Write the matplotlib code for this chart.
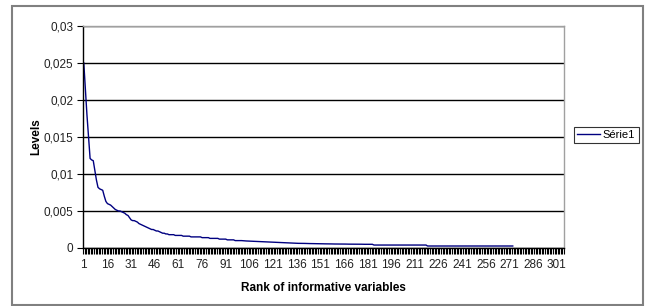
import matplotlib
matplotlib.use('Agg')
import matplotlib.pyplot as plt
from matplotlib.patches import Rectangle

plt.rcParams['font.family'] = ['Liberation Sans', 'DejaVu Sans']

# values, rank 1..273
levels = [
    0.0250, 0.0215, 0.0180, 0.0150, 0.0121, 0.0119, 0.0118, 0.0105, 0.0092, 0.0082,
    0.0080, 0.0079, 0.0078, 0.0070, 0.0063, 0.0060, 0.0059, 0.0058, 0.0056, 0.0054,
    0.0052, 0.0051, 0.0050, 0.0050, 0.0049, 0.0048, 0.0047, 0.0045, 0.0044, 0.0041,
    0.0038, 0.0037, 0.0037, 0.0036, 0.0035, 0.0033, 0.0032, 0.0031, 0.0030, 0.0029,
    0.0028, 0.0027, 0.0026, 0.0025, 0.0025, 0.0024, 0.0023, 0.0023, 0.0022, 0.0021,
    0.0020, 0.0020, 0.0019, 0.0019, 0.0018, 0.0018, 0.0018, 0.0018, 0.0017, 0.0017,
    0.0017, 0.0017, 0.0017, 0.0016, 0.0016, 0.0016, 0.0016, 0.0016, 0.0015, 0.0015,
    0.0015, 0.0015, 0.0015, 0.0015, 0.0015, 0.0014, 0.0014, 0.0014, 0.0014, 0.0014,
    0.0013, 0.0013, 0.0013, 0.0013, 0.0013, 0.0013, 0.0012, 0.0012, 0.0012, 0.0012,
    0.0012, 0.0011, 0.0011, 0.0011, 0.0011, 0.0011, 0.0010, 0.0010, 0.0010, 0.0010,
    0.00100, 0.00098, 0.00095, 0.00095, 0.00094, 0.00093, 0.00092, 0.00091, 0.00090, 0.00090,
    0.00088, 0.00087, 0.00086, 0.00085, 0.00084, 0.00083, 0.00082, 0.00080, 0.00079, 0.00078,
    0.00077, 0.00077, 0.00076, 0.00076, 0.00075, 0.00074, 0.00073, 0.00072, 0.00071, 0.00070,
    0.00069, 0.00068, 0.00067, 0.00066, 0.00065, 0.00064, 0.00063, 0.00063, 0.00063, 0.00062,
    0.00062, 0.00061, 0.00061, 0.00060, 0.00060, 0.00059, 0.00059, 0.00058, 0.00058, 0.00058,
    0.00057, 0.00057, 0.00056, 0.00056, 0.00056, 0.00055, 0.00055, 0.00055, 0.00054, 0.00054,
    0.00054, 0.00054, 0.00054, 0.00053, 0.00053, 0.00053, 0.00053, 0.00052, 0.00052, 0.00052,
    0.00052, 0.00052, 0.00051, 0.00051, 0.00051, 0.00051, 0.00051, 0.00050, 0.00050, 0.00050,
    0.00050, 0.00050, 0.00050, 0.00050, 0.00040, 0.00040, 0.00040, 0.00040, 0.00040, 0.00040,
    0.00040, 0.00040, 0.00040, 0.00040, 0.00040, 0.00040, 0.00040, 0.00040, 0.00040, 0.00040,
    0.00040, 0.00040, 0.00040, 0.00040, 0.00040, 0.00040, 0.00040, 0.00040, 0.00040, 0.00040,
    0.00040, 0.00040, 0.00040, 0.00040, 0.00040, 0.00040, 0.00040, 0.00040, 0.00027, 0.00027,
    0.00027, 0.00027, 0.00027, 0.00027, 0.00027, 0.00027, 0.00027, 0.00027, 0.00027, 0.00027,
    0.00027, 0.00027, 0.00027, 0.00027, 0.00027, 0.00027, 0.00027, 0.00027, 0.00027, 0.00027,
    0.00027, 0.00027, 0.00027, 0.00027, 0.00027, 0.00027, 0.00027, 0.00027, 0.00027, 0.00027,
    0.00027, 0.00027, 0.00027, 0.00027, 0.00027, 0.00027, 0.00027, 0.00027, 0.00027, 0.00027,
    0.00027, 0.00027, 0.00027, 0.00027, 0.00027, 0.00027, 0.00027, 0.00027, 0.00027, 0.00027,
    0.00027, 0.00027, 0.00027,
]
ranks = list(range(1, len(levels) + 1))
n_categories = 305
x_labels = [str(k) for k in range(1, 302, 15)]
y_ticks = [0, 0.005, 0.01, 0.015, 0.02, 0.025, 0.03]
y_labels = ['0', '0,005', '0,01', '0,015', '0,02', '0,025', '0,03']

W, H = 645, 306
fig = plt.figure(figsize=(W / 100, H / 100), dpi=100)
fig.patch.set_facecolor('white')

# outer chart frame
fig.patches.append(Rectangle((12 / W, 1 - 305 / H), 631 / W, 299 / H,
                             transform=fig.transFigure, fill=False,
                             edgecolor='#808080', linewidth=1.5))

ax = fig.add_axes([83 / W, 1 - 248 / H, (564 - 83) / W, (248 - 26) / H])
ax.plot(ranks, levels, color='#000080', linewidth=1.0, label='Série1')

ax.set_xlim(0.5, n_categories + 0.5)
ax.set_ylim(0, 0.03)

ax.set_yticks(y_ticks)
ax.set_yticklabels(y_labels)
ax.yaxis.grid(True, color='black', linewidth=1.0)
ax.set_axisbelow(True)

# tick mark at every category boundary, labels every 15 categories
ax.set_xticks([k + 0.5 for k in range(0, n_categories + 1)])
ax.set_xticklabels([])
ax.set_xticks([int(s) for s in x_labels], minor=True)
ax.set_xticklabels(x_labels, minor=True)
ax.tick_params(axis='x', which='major', direction='out', length=4, width=0.8, color='black')
ax.tick_params(axis='x', which='minor', length=0, pad=8, labelsize=8.5, labelcolor='#222222')
ax.tick_params(axis='y', direction='out', length=4, width=0.8, labelsize=8.5, labelcolor='#222222', pad=3)

ax.spines['left'].set_color('black')
ax.spines['bottom'].set_color('black')
ax.spines['right'].set_color('#a0a0a0')
ax.spines['top'].set_color('#a0a0a0')
for s in ax.spines.values():
    s.set_linewidth(1.0)

ax.set_xlabel('Rank of informative variables', fontsize=8.5, fontweight='bold', labelpad=8)
ax.set_ylabel('Levels', fontsize=8.5, fontweight='bold', labelpad=1)

leg = ax.legend(loc='center left', bbox_to_anchor=(574 / W, 1 - 135 / H),
                bbox_transform=fig.transFigure, fontsize=8, frameon=True,
                fancybox=False, handlelength=2.0, handletextpad=0.3,
                borderpad=0.3, borderaxespad=0)
leg.get_frame().set_edgecolor('black')
leg.get_frame().set_linewidth(0.8)

fig.savefig('out.png', dpi=100)
